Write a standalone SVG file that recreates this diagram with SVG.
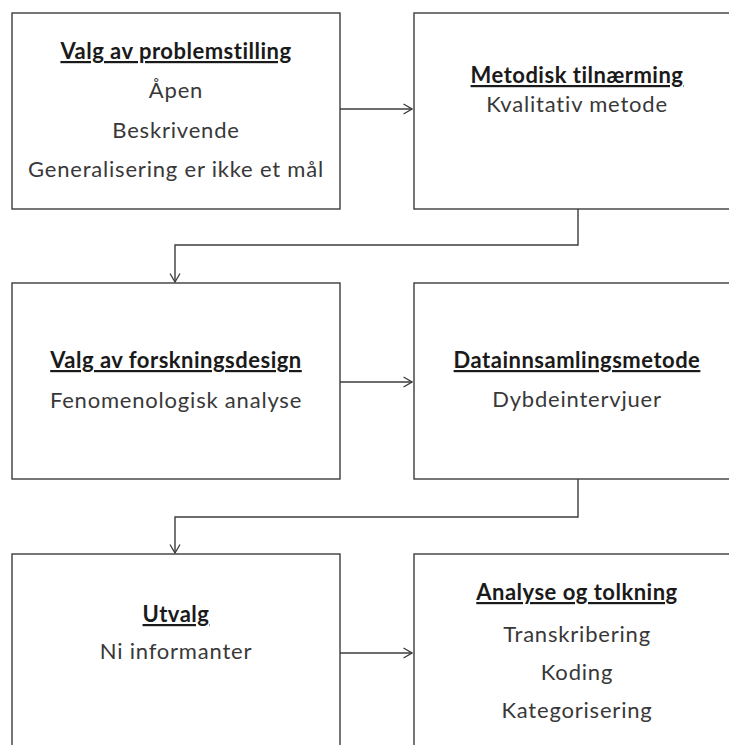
<svg xmlns="http://www.w3.org/2000/svg" width="729" height="745" viewBox="0 0 729 745">
<style>
.box{fill:#fff;stroke:#3c3c3c;stroke-width:1.4}
.t{font-family:Lato,"Liberation Sans",sans-serif;font-size:22px;font-weight:bold;letter-spacing:0.5px;fill:#1a1a1a;text-anchor:middle;text-decoration:underline}
.b{font-family:Lato,"Liberation Sans",sans-serif;font-size:22px;letter-spacing:0.8px;fill:#383838;text-anchor:middle}
.c{fill:none;stroke:#3c3c3c;stroke-width:1.4}
</style>
<defs>
<marker id="ah" viewBox="0 0 10 12" refX="9.5" refY="6" markerWidth="10" markerHeight="12" markerUnits="userSpaceOnUse" orient="auto">
<path d="M1,1 L9.5,6 L1,11" fill="none" stroke="#3c3c3c" stroke-width="1.3"/>
</marker>
</defs>
<rect width="729" height="745" fill="#fff"/>
<g id="connectors">
<line class="c" x1="340" y1="109" x2="412" y2="109" marker-end="url(#ah)"/>
<polyline class="c" points="578,209 578,245 175,245 175,282" marker-end="url(#ah)"/>
<line class="c" x1="340" y1="382" x2="412" y2="382" marker-end="url(#ah)"/>
<polyline class="c" points="578,479 578,517 175,517 175,553" marker-end="url(#ah)"/>
<line class="c" x1="340" y1="653" x2="412" y2="653" marker-end="url(#ah)"/>
</g>
<g id="n1">
<rect class="box" x="12" y="13" width="328" height="196"/>
<text class="t" x="176" y="59">Valg av problemstilling</text>
<text class="b" x="176" y="98">Åpen</text>
<text class="b" x="176" y="138">Beskrivende</text>
<text class="b" x="176" y="177">Generalisering er ikke et mål</text>
</g>
<g id="n2">
<rect class="box" x="414" y="13" width="330" height="196"/>
<text class="t" x="577" y="83">Metodisk tilnærming</text>
<text class="b" x="577" y="112">Kvalitativ metode</text>
</g>
<g id="n3">
<rect class="box" x="12" y="283" width="328" height="196"/>
<text class="t" x="176" y="368">Valg av forskningsdesign</text>
<text class="b" x="176" y="408">Fenomenologisk analyse</text>
</g>
<g id="n4">
<rect class="box" x="414" y="283" width="330" height="196"/>
<text class="t" x="577" y="368">Datainnsamlingsmetode</text>
<text class="b" x="577" y="407">Dybdeintervjuer</text>
</g>
<g id="n5">
<rect class="box" x="12" y="554" width="328" height="200"/>
<text class="t" x="176" y="622">Utvalg</text>
<text class="b" x="176" y="659">Ni informanter</text>
</g>
<g id="n6">
<rect class="box" x="414" y="554" width="330" height="200"/>
<text class="t" x="577" y="600">Analyse og tolkning</text>
<text class="b" x="577" y="642">Transkribering</text>
<text class="b" x="577" y="680">Koding</text>
<text class="b" x="577" y="718">Kategorisering</text>
</g>
</svg>
